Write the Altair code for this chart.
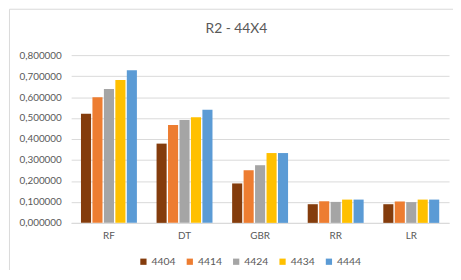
import altair as alt
import pandas as pd

models = ["RF", "DT", "GBR", "RR", "LR"]
series = ["4404", "4414", "4424", "4434", "4444"]
colors = ["#843C0C", "#ED7D31", "#A5A5A5", "#FFC000", "#5B9BD5"]
values = {
    "4404": [0.521, 0.378, 0.188, 0.089, 0.089],
    "4414": [0.599, 0.467, 0.251, 0.103, 0.102],
    "4424": [0.639, 0.491, 0.275, 0.100, 0.099],
    "4434": [0.681, 0.504, 0.333, 0.111, 0.111],
    "4444": [0.728, 0.540, 0.333, 0.111, 0.111],
}

rows = []
for s in series:
    for m, v in zip(models, values[s]):
        rows.append({"model": m, "series": s, "value": v})
df = pd.DataFrame(rows)

FONT = "Lato"
TXT = "#595959"

bars = alt.Chart(df).mark_bar().encode(
    x=alt.X("model:N", sort=models, title=None,
            scale=alt.Scale(paddingInner=0.26, paddingOuter=0.13),
            axis=alt.Axis(labelAngle=0, ticks=False, domainColor="#D9D9D9",
                          labelColor=TXT, labelFont=FONT, labelFontSize=10,
                          labelPadding=8)),
    xOffset=alt.XOffset("series:N", sort=series, scale=alt.Scale(paddingInner=0.12)),
    y=alt.Y("value:Q", title=None,
            scale=alt.Scale(domain=[0, 0.8]),
            axis=alt.Axis(values=[0, 0.1, 0.2, 0.3, 0.4, 0.5, 0.6, 0.7, 0.8],
                          labelExpr="replace(format(datum.value, '.6f'), '.', ',')",
                          domain=False, ticks=False, gridColor="#D9D9D9",
                          labelColor=TXT, labelFont=FONT, labelFontSize=10,
                          labelPadding=10)),
    color=alt.Color("series:N", sort=series,
                    scale=alt.Scale(domain=series, range=colors),
                    legend=alt.Legend(title=None, orient="none", direction="horizontal",
                                      legendX=68, legendY=204,
                                      symbolType="square", symbolSize=40,
                                      symbolStrokeWidth=0,
                                      labelColor=TXT, labelFont=FONT, labelFontSize=10.5,
                                      columnPadding=9, labelOffset=3)),
)

frame_df = pd.DataFrame({"k": [0]})
frame_v = alt.Chart(frame_df).mark_rule(color="#D9D9D9", strokeWidth=1).encode(
    x=alt.value(-62.5), y=alt.value(-46.5), y2=alt.value(240)
)
frame_h = alt.Chart(frame_df).mark_rule(color="#D9D9D9", strokeWidth=1).encode(
    x=alt.value(-62.5), x2=alt.value(400), y=alt.value(-46.5)
)

chart = alt.layer(frame_v, frame_h, bars).properties(
    width=383, height=170,
    padding={"left": 64, "top": 46, "right": 4, "bottom": 46},
    autosize=alt.AutoSizeParams(type="none"),
    title=alt.TitleParams("R2 - 44X4", font=FONT, fontSize=14, fontWeight="normal",
                          color=TXT, anchor="middle", frame="group", dx=-24, offset=-28),
).configure_view(stroke=None)

chart.save("out.html", embed_options={"renderer": "svg", "actions": False})
